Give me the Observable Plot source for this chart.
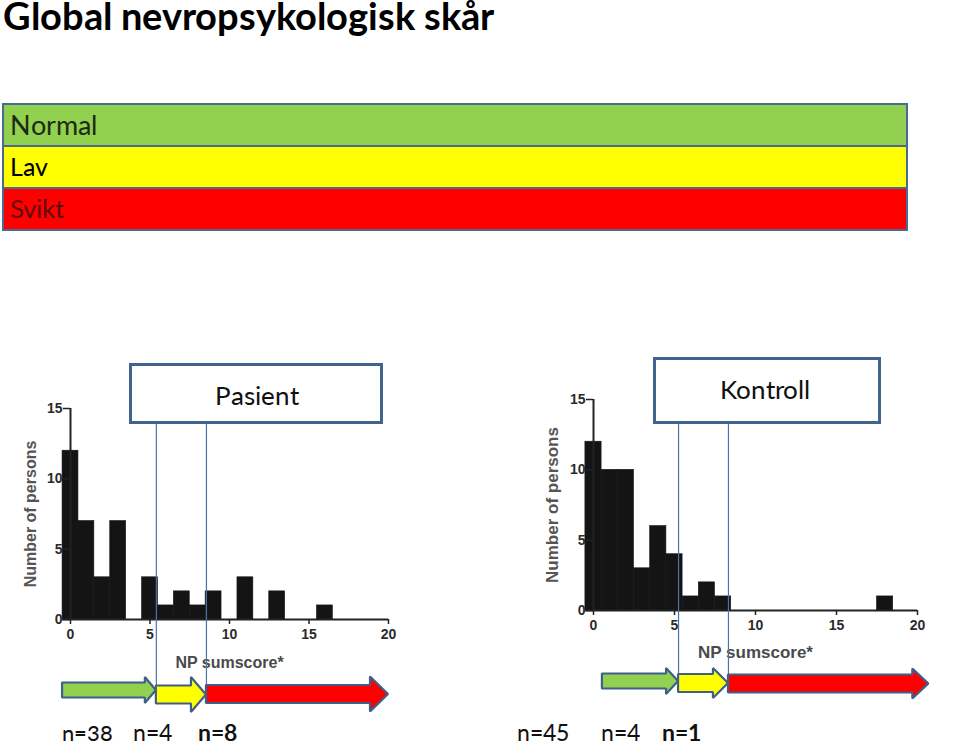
<!DOCTYPE html>
<html>
<head>
<meta charset="utf-8">
<script src="https://cdn.jsdelivr.net/npm/d3@7"></script>
<script src="https://cdn.jsdelivr.net/npm/@observablehq/plot@0.6"></script>
<style>
  @font-face { font-family: "LatoFit"; src: local("Lato Regular"), local("Lato-Regular"), local("Lato"); font-weight: 400;
    ascent-override: 80%; descent-override: 8%; line-gap-override: 0%; }
  @font-face { font-family: "LatoFit"; src: local("Lato Bold"), local("Lato-Bold"); font-weight: 700;
    ascent-override: 80%; descent-override: 8%; line-gap-override: 0%; }
  html, body { margin: 0; padding: 0; background: #fff; }
  #page { position: relative; width: 960px; height: 743px; overflow: hidden; background: #fff; font-family: LatoFit, Lato, sans-serif; }
  .abs { position: absolute; }
  .txt { position: absolute; white-space: nowrap; line-height: 1; }
  .abs svg { overflow: visible; }
</style>
</head>
<body>
<div id="page"></div>
<script>
// ---------- data ----------
const title = "Global nevropsykologisk skår";
const levels = ["Normal", "Lav", "Svikt"];
const levelColors = ["#92D050", "#FFFF00", "#FF0000"];
const levelTextColors = ["#1c2b12", "#000000", "#650b0b"];
const scores = [0,1,2,3,4,5,6,7,8,9,10,11,12,13,14,15,16,17,18,19,20];
const patientCounts = [12,7,3,7,0,3,1,2,1,2,0,3,0,2,0,0,1,0,0,0,0];
const controlCounts = [12,10,10,3,6,4,1,2,1,0,0,0,0,0,0,0,0,0,1,0,0];
const panelTitles = ["Pasient", "Kontroll"];
const patientCutoffs = [5.4, 8.55];
const controlCutoffs = [5.25, 8.33];
const patientArrowBounds = [-0.5, 5.4, 8.55, 20];
const controlArrowBounds = [0.55, 5.25, 8.33, 20.7];
const patientN = [38, 4, 8];
const controlN = [45, 4, 1];
const xTicks = [0, 5, 10, 15, 20];
const yTicks = [0, 5, 10, 15];
const xLabel = "NP sumscore*";
const yLabel = "Number of persons";

// ---------- helpers ----------
const page = document.getElementById("page");
const PAGE_H = 743;

// places a text with its baseline at `baseline`, sizing the font so the text is `width` wide
function place(text, {x, baseline, size, weight = 400, color = "#000", width}) {
  const el = document.createElement("div");
  el.className = "txt";
  const t = document.createTextNode(text);
  el.appendChild(t);
  Object.assign(el.style, {left: x + "px", top: "0px", fontSize: size + "px", fontWeight: weight, color});
  const probe = document.createElement("span");
  probe.style.cssText = "display:inline-block;width:0;height:0;vertical-align:baseline";
  el.appendChild(probe);
  page.appendChild(el);
  if (width) {
    const w = el.getBoundingClientRect().width;
    el.style.fontSize = (size * width / w) + "px";
  }
  let top = baseline - probe.offsetTop;
  el.style.top = top + "px";
  // keep the text's line box inside the page
  const range = document.createRange();
  range.selectNodeContents(t);
  const r = range.getBoundingClientRect();
  const pr = page.getBoundingClientRect();
  if (r.top < pr.top) top += pr.top - r.top + 0.5;
  else if (r.bottom > pr.top + PAGE_H) top -= r.bottom - (pr.top + PAGE_H) + 0.5;
  el.style.top = top + "px";
  return el;
}

function box(left, top, width, height, style) {
  const d = document.createElement("div");
  d.className = "abs";
  Object.assign(d.style, {left: left + "px", top: top + "px", width: width + "px", height: height + "px", boxSizing: "border-box"}, style);
  page.appendChild(d);
  return d;
}

function mount(svg, left, top) {
  const wrap = document.createElement("div");
  wrap.className = "abs";
  wrap.style.left = left + "px";
  wrap.style.top = top + "px";
  wrap.appendChild(svg);
  page.appendChild(wrap);
}

// ---------- title ----------
place(title, {x: 3, baseline: 30, size: 37, weight: 700, color: "#000", width: 494});

// ---------- legend bars ----------
const legendBaselines = [135, 176, 218];
const legendWidths = [88, 37, 55];
levels.forEach((name, i) => {
  box(2, 103 + 42 * i, 906, 44, {background: levelColors[i], border: "2px solid #4A6A93"});
});
levels.forEach((name, i) => {
  place(name, {x: 10, baseline: legendBaselines[i], size: 28, color: levelTextColors[i], width: legendWidths[i]});
});

// ---------- histograms ----------
const axisFont = "'Liberation Sans', Arial, sans-serif";
function histogram({counts, left, top, width, height, x0px, x20px, y0px, y15px, yLabelDx, xLabelDy, labelSize}) {
  const data = scores.map((s, i) => ({score: s, count: counts[i]})).filter(d => d.count > 0);
  const svg = Plot.plot({
    width, height,
    marginLeft: x0px - left,
    marginRight: left + width - x20px,
    marginTop: y15px - top,
    marginBottom: top + height - y0px,
    x: {domain: [0, 20]},
    y: {domain: [0, 15]},
    style: {background: "transparent", fontFamily: axisFont, fontSize: "14px", fontWeight: "bold", color: "#2b2b2b"},
    marks: [
      Plot.rect(data, {x1: d => d.score - 0.5, x2: d => d.score + 0.5, y1: 0, y2: "count", fill: "#141414", stroke: "#141414", strokeWidth: 0.6}),
      Plot.ruleY([0], {x1: -0.5, x2: 20, stroke: "#222", strokeWidth: 2}),
      Plot.ruleX([0], {y1: 0, y2: 15, stroke: "#222", strokeWidth: 2}),
      Plot.axisX({ticks: xTicks, tickSize: 5, tickPadding: 5, label: null, stroke: "#222", strokeWidth: 1.5,
        fontSize: 14, fontWeight: "bold", fontFamily: axisFont, fill: "#2b2b2b"}),
      Plot.axisY({ticks: yTicks, tickSize: 7, tickPadding: 1, label: null, stroke: "#222", strokeWidth: 1.5,
        fontSize: 14, fontWeight: "bold", fontFamily: axisFont, fill: "#2b2b2b"}),
      Plot.text([xLabel], {text: d => d, frameAnchor: "bottom", lineAnchor: "middle", textAnchor: "middle", dy: xLabelDy,
        fontSize: labelSize, fontWeight: "bold", fontFamily: axisFont, fill: "#4a4a4a"}),
      Plot.text([yLabel], {text: d => d, frameAnchor: "left", lineAnchor: "middle", textAnchor: "middle", rotate: -90, dx: yLabelDx,
        fontSize: labelSize, fontWeight: "bold", fontFamily: axisFont, fill: "#555"})
    ]
  });
  mount(svg, left, top);
}

histogram({counts: patientCounts, left: 0, top: 380, width: 420, height: 300,
  x0px: 70, x20px: 388, y0px: 619, y15px: 408, yLabelDx: -40, xLabelDy: 43, labelSize: 16});
histogram({counts: controlCounts, left: 530, top: 370, width: 420, height: 300,
  x0px: 593, x20px: 917, y0px: 610, y15px: 399, yLabelDx: -41, xLabelDy: 42, labelSize: 17});

// ---------- cutoff rules and arrows ----------
function overlay({cutoffs, bounds, specs, left, top, width, height, x0px, x20px, ruleEnd}) {
  const pxPerUnit = (x20px - x0px) / 20;
  const arrows = specs.map((s, i) => {
    const a = bounds[i], b = bounds[i + 1];
    const hs = b - s.head / pxPerUnit;
    const pts = [
      {x: a, y1: s.cy - s.body, y2: s.cy + s.body},
      {x: hs, y1: s.cy - s.body, y2: s.cy + s.body},
      {x: hs, y1: s.cy - s.half, y2: s.cy + s.half},
      {x: b, y1: s.cy, y2: s.cy}
    ];
    return Plot.area(pts, {x1: "x", y1: "y1", y2: "y2", fill: levelColors[i], stroke: "#3F5F8A", strokeWidth: 2.2, strokeLinejoin: "miter"});
  });
  const svg = Plot.plot({
    width, height,
    marginLeft: x0px - left,
    marginRight: left + width - x20px,
    marginTop: 0, marginBottom: 0,
    x: {domain: [0, 20], axis: null},
    y: {domain: [0, height], range: [0, height], axis: null},
    style: {background: "transparent"},
    marks: [
      Plot.ruleX(cutoffs, {x: d => d, y1: 0, y2: ruleEnd, stroke: "#4A74A8", strokeWidth: 1.2}),
      ...arrows
    ]
  });
  mount(svg, left, top);
}

overlay({cutoffs: patientCutoffs, bounds: patientArrowBounds, left: 0, top: 424, width: 440, height: 300,
  x0px: 70, x20px: 388, ruleEnd: 261,
  specs: [
    {cy: 266, body: 7.5, half: 13, head: 11},
    {cy: 270.5, body: 9, half: 17.5, head: 15},
    {cy: 270, body: 9, half: 17.5, head: 18}
  ]});
overlay({cutoffs: controlCutoffs, bounds: controlArrowBounds, left: 530, top: 424, width: 420, height: 300,
  x0px: 593, x20px: 917, ruleEnd: 252,
  specs: [
    {cy: 257, body: 7.5, half: 13, head: 12},
    {cy: 259, body: 9, half: 15, head: 15},
    {cy: 259.5, body: 9, half: 15, head: 16}
  ]});

// ---------- panel title boxes ----------
box(129, 363, 254, 61, {background: "#fff", border: "3px solid #41638E"});
box(653, 357, 228, 67, {background: "#fff", border: "3px solid #41638E"});
place(panelTitles[0], {x: 215, baseline: 405, size: 28, color: "#111", width: 83});
place(panelTitles[1], {x: 720, baseline: 399, size: 28, color: "#111", width: 93});

// ---------- n labels ----------
const patientNx = [62, 133, 198];
const controlNx = [517, 601, 662];
const nWidths = [[51, 39, 40], [53, 39, 40]];
[patientN, controlN].forEach((ns, g) => {
  const xs = g === 0 ? patientNx : controlNx;
  ns.forEach((n, i) => {
    place("n=" + n, {x: xs[i], baseline: 741, size: 22, weight: i === 2 ? 700 : 400, color: "#111", width: nWidths[g][i]});
  });
});
</script>
</body>
</html>
